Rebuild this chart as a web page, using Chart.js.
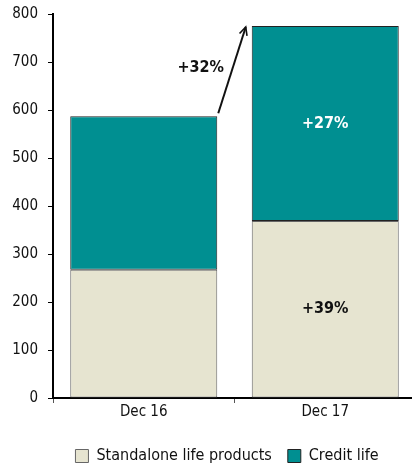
<!DOCTYPE html>
<html>
<head>
<meta charset="utf-8">
<script src="https://cdn.jsdelivr.net/npm/chart.js@4.4.0/dist/chart.umd.min.js"></script>
<style>
  html, body { margin: 0; padding: 0; background: #fff; overflow: hidden; }
  #wrap { width: 416px; height: 470px; }
</style>
</head>
<body>
<div id="wrap"><canvas id="lifeChart"></canvas></div>
<script>
// Life insurance premiums by product line
const periods = ["Dec 16", "Dec 17"];
const standaloneLife = [267, 369];
const creditLife = [320, 406];
const segmentGrowth = ["+39%", "+27%"];
const totalGrowth = "+32%";
const yTicks = [0, 100, 200, 300, 400, 500, 600, 700, 800];

const FONT = '"Liberation Sans Narrow", "DejaVu Sans Condensed", "Arial Narrow", sans-serif';

// Growth labels inside the Dec 17 bar plus the arrow between bar totals
const growthLabels = {
  id: "growthLabels",
  beforeLayout(chart) {
    // fixed legend band height
    const lg = chart.legend;
    if (lg && !lg._fixedFit) {
      const fit = lg.fit.bind(lg);
      lg.fit = function () { fit(); this.height = 38; };
      lg._fixedFit = true;
    }
  },
  afterLayout(chart) {
    // nudge the legend so it sits under the plot area
    const lg = chart.legend;
    if (lg) { lg.left += 16; lg.right += 16; }
  },
  afterDatasetsDraw(chart) {
    const ctx = chart.ctx;
    const y = chart.scales.y;
    const last = periods.length - 1;
    ctx.save();
    ctx.font = "bold 16px " + FONT;
    ctx.textAlign = "center";
    ctx.textBaseline = "middle";

    // segment labels on the latest bar
    const s = chart.getDatasetMeta(0).data[last];
    const c = chart.getDatasetMeta(1).data[last];
    ctx.fillStyle = "#111";
    ctx.fillText(segmentGrowth[0], s.x, (s.y + s.base) / 2);
    ctx.fillStyle = "#fff";
    ctx.fillText(segmentGrowth[1], c.x, (c.y + c.base) / 2);

    // arrow from the first bar's top to the second bar's top
    const from = chart.getDatasetMeta(1).data[0];
    const x0 = from.x + from.width / 2 + 1;
    const y0 = y.getPixelForValue(standaloneLife[0] + creditLife[0]) - 3;
    const x1 = c.x - c.width / 2 - 6;
    const y1 = y.getPixelForValue(standaloneLife[last] + creditLife[last]) + 1;
    ctx.strokeStyle = "#111";
    ctx.lineWidth = 2;
    ctx.beginPath();
    ctx.moveTo(x0, y0);
    ctx.lineTo(x1, y1);
    ctx.stroke();
    const ang = Math.atan2(y1 - y0, x1 - x0);
    ctx.lineWidth = 1.6;
    ctx.beginPath();
    ctx.moveTo(x1 - 9 * Math.cos(ang - 0.45), y1 - 9 * Math.sin(ang - 0.45));
    ctx.lineTo(x1, y1);
    ctx.lineTo(x1 - 9 * Math.cos(ang + 0.45), y1 - 9 * Math.sin(ang + 0.45));
    ctx.stroke();

    ctx.fillStyle = "#111";
    ctx.textAlign = "right";
    ctx.fillText(totalGrowth, (x0 + x1) / 2 - 8, (y0 + y1) / 2 - 2);
    ctx.restore();
  }
};

new Chart(document.getElementById("lifeChart"), {
  type: "bar",
  data: {
    labels: periods,
    datasets: [
      {
        label: "Standalone life products",
        data: standaloneLife,
        backgroundColor: "#e6e4d0",
        borderColor: "#666",
        borderWidth: 1,
        borderSkipped: false,
        barPercentage: 0.81,
        categoryPercentage: 1
      },
      {
        label: "Credit life",
        data: creditLife,
        backgroundColor: "#008f91",
        borderColor: "#222",
        borderWidth: 1,
        borderSkipped: false,
        barPercentage: 0.81,
        categoryPercentage: 1
      }
    ]
  },
  options: {
    responsive: true,
    maintainAspectRatio: false,
    animation: false,
    layout: { padding: { top: 14, right: 0, left: 6, bottom: 0 } },
    scales: {
      x: {
        stacked: true,
        offset: true,
        afterFit(scale) { scale.height = 34; },
        grid: {
          offset: true,
          drawOnChartArea: false,
          drawTicks: true,
          tickLength: 5,
          color: "#555"
        },
        border: { display: true, color: "#000", width: 2 },
        ticks: { color: "#111", font: { family: FONT, size: 15 }, padding: 0 }
      },
      y: {
        stacked: true,
        min: 0,
        max: 800,
        afterBuildTicks(scale) {
          scale.ticks = yTicks.map(v => ({ value: v }));
        },
        afterFit(scale) {
          scale.width = 47;
          scale.paddingTop = 0;
          scale.paddingBottom = 0;
        },
        grid: {
          drawOnChartArea: false,
          drawTicks: true,
          tickLength: 5,
          color: "#000"
        },
        border: { display: true, color: "#000", width: 2 },
        ticks: { color: "#111", font: { family: FONT, size: 15 }, padding: 10 }
      }
    },
    plugins: {
      legend: {
        position: "bottom",
        labels: {
          color: "#111",
          font: { family: FONT, size: 16 },
          boxWidth: 13,
          boxHeight: 13,
          padding: 16,
          useBorderRadius: false
        }
      },
      tooltip: { enabled: false }
    }
  },
  plugins: [growthLabels]
});
</script>
</body>
</html>
